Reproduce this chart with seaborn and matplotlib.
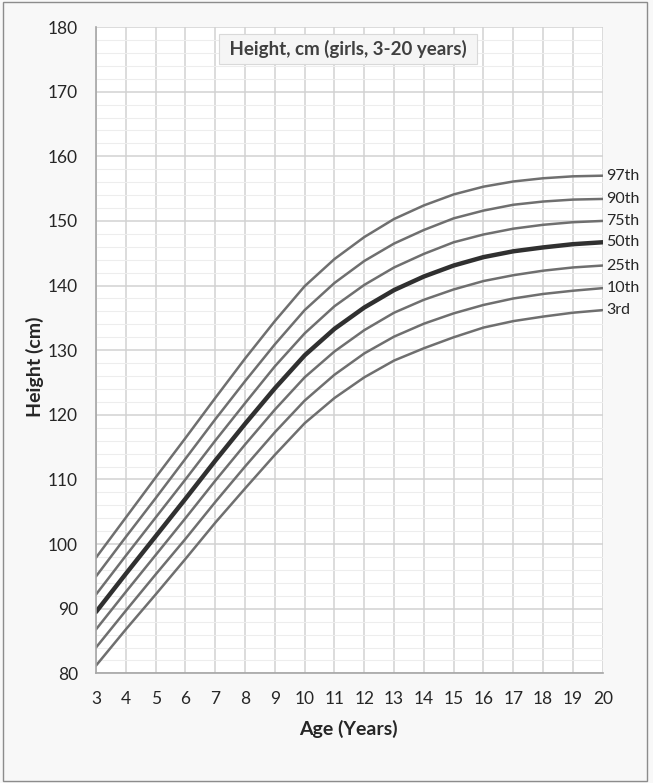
import matplotlib
matplotlib.use('Agg')
import matplotlib.pyplot as plt
import pandas as pd
import seaborn as sns
from matplotlib.patches import Rectangle
from matplotlib.ticker import MultipleLocator

ages = list(range(3, 21))
p97 = [97.9, 104.1, 110.3, 116.4, 122.6, 128.7, 134.5, 139.9, 144.1, 147.5, 150.3, 152.4, 154.1, 155.3, 156.1, 156.6, 156.9, 157.0]
p90 = [95.0, 101.1, 107.1, 113.2, 119.3, 125.2, 130.9, 136.2, 140.4, 143.8, 146.5, 148.6, 150.4, 151.6, 152.5, 153.0, 153.3, 153.4]
p75 = [92.2, 98.2, 104.1, 110.0, 116.0, 121.8, 127.5, 132.6, 136.8, 140.1, 142.8, 144.9, 146.7, 147.9, 148.8, 149.4, 149.8, 150.0]
p50 = [89.5, 95.4, 101.2, 107.0, 112.9, 118.6, 124.1, 129.2, 133.3, 136.6, 139.3, 141.4, 143.1, 144.4, 145.3, 145.9, 146.4, 146.7]
p25 = [86.8, 92.6, 98.3, 104.0, 109.8, 115.4, 120.8, 125.8, 129.8, 133.1, 135.8, 137.8, 139.4, 140.7, 141.6, 142.3, 142.8, 143.1]
p10 = [84.0, 89.7, 95.3, 100.8, 106.5, 112.0, 117.3, 122.2, 126.2, 129.5, 132.1, 134.1, 135.7, 137.0, 138.0, 138.7, 139.2, 139.6]
p3 = [81.2, 86.8, 92.2, 97.7, 103.3, 108.6, 113.8, 118.7, 122.6, 125.8, 128.4, 130.3, 132.0, 133.5, 134.5, 135.2, 135.8, 136.2]
labels = ['97th', '90th', '75th', '50th', '25th', '10th', '3rd']
series = [p97, p90, p75, p50, p25, p10, p3]

df = pd.DataFrame({'age': ages})
for name, vals in zip(labels, series):
    df[name] = vals
df = df.melt(id_vars='age', var_name='pct', value_name='height')

sns.set_style('white')
plt.rcParams['font.family'] = ['Lato', 'DejaVu Sans']

fig = plt.figure(figsize=(6.53, 7.83), dpi=100, facecolor='#f8f8f8')
ax = fig.add_axes([0.147, 0.140, 0.776, 0.8255])
ax.set_facecolor('white')

palette = {k: '#6f6f6f' for k in labels}
palette['50th'] = '#303030'
sizes = {k: 1.8 for k in labels}
sizes['50th'] = 3.2
sns.lineplot(data=df, x='age', y='height', hue='pct', size='pct', palette=palette,
             sizes=sizes, hue_order=labels, size_order=labels, legend=False, ax=ax)

ax.set_xlim(3, 20)
ax.set_ylim(80, 180)
ax.set_xticks(ages)
ax.yaxis.set_major_locator(MultipleLocator(10))
ax.yaxis.set_minor_locator(MultipleLocator(2))
ax.set_axisbelow(True)
ax.grid(which='major', color='#d2d2d2', lw=1.1)
ax.grid(which='minor', axis='y', color='#ededed', lw=0.8)

for s in ['top', 'right']:
    ax.spines[s].set_visible(False)
for s in ['left', 'bottom']:
    ax.spines[s].set_color('#a6a6a6')
    ax.spines[s].set_linewidth(1.2)
ax.tick_params(which='major', direction='out', length=5, width=1, color='#a6a6a6',
               labelsize=12.5, labelcolor='#262626', pad=8)
ax.tick_params(which='minor', direction='out', length=4, width=1, color='#a6a6a6')
ax.tick_params(axis='x', which='minor', length=0)

ax.set_xlabel('Age (Years)', fontsize=14, fontweight='bold', color='#262626')
ax.set_ylabel('Height (cm)', fontsize=14, fontweight='bold', color='#262626')
ax.xaxis.set_label_coords(0.499, -0.086)
ax.xaxis.label.set_va('center')
ax.yaxis.set_label_coords(-0.121, 0.474)
ax.yaxis.label.set_va('center')

for name, vals in zip(labels, series):
    ax.annotate(name, xy=(ages[-1], vals[-1]), xytext=(2.5, 0), textcoords='offset points',
                ha='left', va='center', fontsize=11.5, color='#262626', annotation_clip=False)

ax.text(0.497, 0.966, ' Height, cm (girls, 3-20 years) ', transform=ax.transAxes,
        ha='center', va='center', fontsize=13.5, fontweight='bold', color='#404040',
        bbox=dict(boxstyle='square,pad=0.3', fc='#f5f5f5', ec='#d9d9d9', lw=0.8))

fig.patches.append(Rectangle((0.004, 0.002), 0.987, 0.995, transform=fig.transFigure,
                             fill=False, ec='#8c8c8c', lw=1))

fig.savefig('out.png', dpi=100, facecolor=fig.get_facecolor())
